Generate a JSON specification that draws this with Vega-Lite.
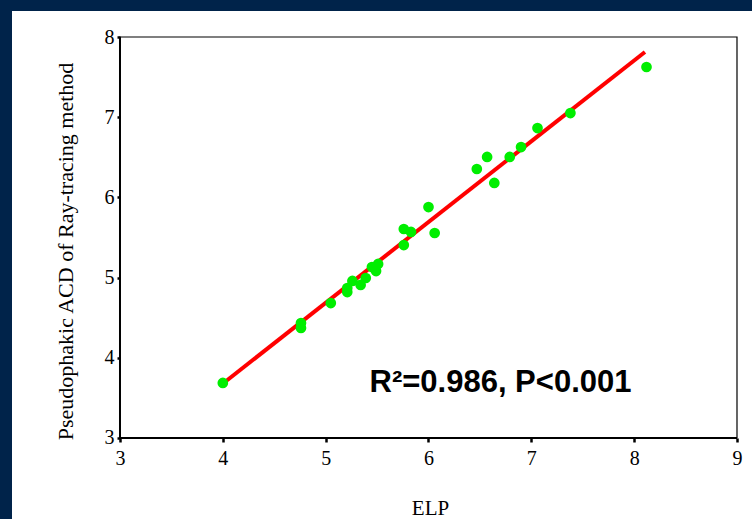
{
  "$schema": "https://vega.github.io/schema/vega-lite/v6.json",
  "width": 740,
  "height": 508,
  "autosize": "none",
  "padding": {"left": 12, "top": 11, "right": 0, "bottom": 0},
  "background": "#00234a",
  "config": {"view": {"fill": "white", "stroke": null}},
  "datasets": {
    "points": [
      {"ELP": 4.00, "ACD": 3.686},
      {"ELP": 4.76, "ACD": 4.434},
      {"ELP": 4.76, "ACD": 4.372},
      {"ELP": 5.05, "ACD": 4.683},
      {"ELP": 5.21, "ACD": 4.870},
      {"ELP": 5.21, "ACD": 4.820},
      {"ELP": 5.26, "ACD": 4.958},
      {"ELP": 5.34, "ACD": 4.908},
      {"ELP": 5.39, "ACD": 4.995},
      {"ELP": 5.45, "ACD": 5.132},
      {"ELP": 5.49, "ACD": 5.082},
      {"ELP": 5.51, "ACD": 5.170},
      {"ELP": 5.76, "ACD": 5.406},
      {"ELP": 5.76, "ACD": 5.606},
      {"ELP": 5.83, "ACD": 5.569},
      {"ELP": 6.00, "ACD": 5.880},
      {"ELP": 6.06, "ACD": 5.556},
      {"ELP": 6.47, "ACD": 6.354},
      {"ELP": 6.57, "ACD": 6.504},
      {"ELP": 6.64, "ACD": 6.180},
      {"ELP": 6.79, "ACD": 6.504},
      {"ELP": 6.90, "ACD": 6.628},
      {"ELP": 7.06, "ACD": 6.865},
      {"ELP": 7.38, "ACD": 7.052},
      {"ELP": 8.12, "ACD": 7.626}
    ],
    "fit": [
      {"ELP": 4.02, "ACD": 3.698},
      {"ELP": 8.105, "ACD": 7.813}
    ]
  },
  "layer": [
    {
      "data": {"values": [{}]},
      "mark": {"type": "rect", "fill": null, "stroke": "black", "strokeWidth": 1.2},
      "encoding": {
        "x": {"datum": 3, "type": "quantitative", "title": "ELP"},
        "x2": {"datum": 9},
        "y": {"datum": 3, "type": "quantitative", "title": "Pseudophakic ACD of Ray-tracing method"},
        "y2": {"datum": 8}
      }
    },
    {
      "data": {"values": [{}]},
      "mark": {"type": "rule", "stroke": "black", "strokeWidth": 2},
      "encoding": {
        "x": {"datum": 3, "type": "quantitative", "title": "ELP"},
        "y": {"datum": 3, "type": "quantitative", "title": "Pseudophakic ACD of Ray-tracing method"},
        "y2": {"datum": 8}
      }
    },
    {
      "data": {"values": [{}]},
      "mark": {"type": "rule", "stroke": "black", "strokeWidth": 2},
      "encoding": {
        "x": {"datum": 3, "type": "quantitative", "title": "ELP"},
        "x2": {"datum": 9},
        "y": {"datum": 3, "type": "quantitative", "title": "Pseudophakic ACD of Ray-tracing method"}
      }
    },
    {
      "data": {"name": "fit"},
      "mark": {"type": "line", "color": "#ff0000", "strokeWidth": 4},
      "encoding": {
        "x": {"field": "ELP", "type": "quantitative", "title": "ELP"},
        "y": {"field": "ACD", "type": "quantitative", "title": "Pseudophakic ACD of Ray-tracing method"}
      }
    },
    {
      "data": {"name": "points"},
      "mark": {"type": "point", "filled": true, "shape": "circle", "size": 115, "color": "#00ee00", "opacity": 1},
      "encoding": {
        "x": {
          "field": "ELP", "type": "quantitative",
          "scale": {"domain": [1.9498, 9.1459], "nice": false, "zero": false},
          "axis": {
            "values": [3, 4, 5, 6, 7, 8, 9],
            "format": "d",
            "offset": -81,
            "domain": false,
            "grid": false,
            "tickSize": 4,
            "tickWidth": 2.5,
            "tickColor": "black",
            "labelFont": "Liberation Serif",
            "labelFontSize": 20,
            "labelColor": "black",
            "labelPadding": 6,
            "labelFlush": false,
            "labelOverlap": false,
            "title": "ELP",
            "titleFont": "Liberation Serif",
            "titleFontSize": 21,
            "titleFontWeight": "normal",
            "titleColor": "black",
            "titleX": 418,
            "titleY": 76,
            "titleBaseline": "alphabetic",
            "titleAlign": "center"
          }
        },
        "y": {
          "field": "ACD", "type": "quantitative",
          "scale": {"domain": [1.99, 8.3242], "nice": false, "zero": false},
          "axis": {
            "values": [3, 4, 5, 6, 7, 8],
            "format": "d",
            "offset": -108,
            "domain": false,
            "grid": false,
            "tickSize": 3,
            "tickWidth": 2.5,
            "tickColor": "black",
            "labelFont": "Liberation Serif",
            "labelFontSize": 20,
            "labelColor": "black",
            "labelPadding": 3,
            "labelFlush": false,
            "labelOverlap": false,
            "title": "Pseudophakic ACD of Ray-tracing method",
            "titleFont": "Liberation Serif",
            "titleFontSize": 22,
            "titleFontWeight": "normal",
            "titleColor": "black",
            "titleAngle": 270,
            "titleX": -48,
            "titleY": 240,
            "titleBaseline": "alphabetic",
            "titleAlign": "center"
          }
        }
      }
    },
    {
      "data": {"values": [{}]},
      "mark": {"type": "text", "text": "R²=0.986, P<0.001", "font": "Liberation Sans", "fontSize": 31, "fontWeight": "bold", "color": "black", "align": "center", "baseline": "alphabetic"},
      "encoding": {
        "x": {"datum": 6.7, "type": "quantitative", "title": "ELP"},
        "y": {"datum": 3.574, "type": "quantitative", "title": "Pseudophakic ACD of Ray-tracing method"}
      }
    }
  ]
}
